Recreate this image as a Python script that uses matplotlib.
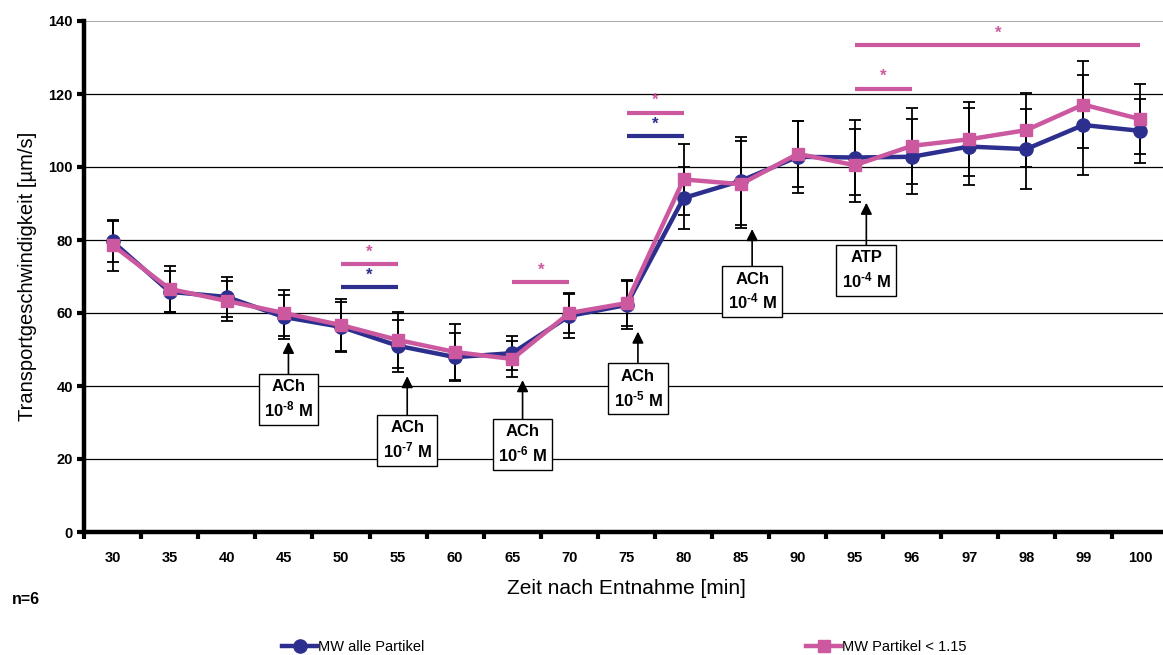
import numpy as np
import matplotlib
matplotlib.use('Agg')
from matplotlib import pyplot as plt

plt.rcParams['font.family'] = ['Liberation Sans', 'DejaVu Sans']
plt.rcParams['mathtext.fontset'] = 'custom'
plt.rcParams['mathtext.rm'] = 'Liberation Sans:bold'
plt.rcParams['mathtext.default'] = 'rm'

# ---------------------------------------------------------------------------
# Daten: Transportgeschwindigkeit (Mittelwert +/- SD), n=6
# ---------------------------------------------------------------------------
zeit = ['30', '35', '40', '45', '50', '55', '60', '65', '70', '75',
        '80', '85', '90', '95', '96', '97', '98', '99', '100']

mw_alle = [79.6, 65.8, 64.4, 58.9, 56.2, 51.0, 47.9, 49.0, 59.2, 62.2,
           91.5, 96.2, 102.8, 102.6, 102.8, 105.6, 104.9, 111.5, 109.9]
sd_alle = [5.7, 5.6, 5.4, 6.0, 6.9, 7.2, 6.5, 4.6, 6.0, 6.5,
           8.6, 12.0, 9.9, 10.3, 10.3, 10.6, 11.0, 13.6, 8.7]

mw_klein = [78.6, 66.6, 63.3, 60.0, 56.7, 52.6, 49.3, 47.4, 60.0, 62.7,
            96.6, 95.3, 103.6, 100.5, 105.8, 107.6, 110.1, 117.1, 113.1]
sd_klein = [7.0, 6.4, 5.5, 6.3, 7.0, 7.8, 7.7, 5.0, 5.6, 6.3,
            9.7, 11.9, 9.0, 10.0, 10.5, 10.2, 10.2, 12.0, 9.6]

# Signifikanzbalken: (von, bis, Hoehe, Serie)
sig_von = ['50', '50', '65', '75', '75', '95', '95']
sig_bis = ['55', '55', '70', '80', '80', '96', '100']
sig_hoehe = [73.4, 67.1, 68.4, 114.9, 108.5, 121.5, 133.5]
sig_serie = ['klein', 'alle', 'klein', 'klein', 'alle', 'klein', 'klein']

# Substanzgaben: Beschriftung, Position, Pfeilspitze, Kastenmitte
gabe_text = ['ACh\n10$^{\\text{-}8}$ M', 'ACh\n10$^{\\text{-}7}$ M',
             'ACh\n10$^{\\text{-}6}$ M', 'ACh\n10$^{\\text{-}5}$ M',
             'ACh\n10$^{\\text{-}4}$ M', 'ATP\n10$^{\\text{-}4}$ M']
gabe_x = [3.08, 5.16, 7.18, 9.2, 11.2, 13.2]
gabe_spitze = [52.1, 42.7, 41.6, 54.9, 83.0, 90.2]
gabe_kasten = [36.4, 25.2, 24.0, 39.2, 65.8, 71.7]

BLAU = '#2c2f8e'
ROSA = '#cc599f'
farbe = {'alle': BLAU, 'klein': ROSA}

x = np.arange(len(zeit))

fig = plt.figure(figsize=(11.63, 6.55), dpi=100)
ax = fig.add_axes([84 / 1163, 1 - 532 / 655, 1085 / 1163, 511 / 655])

# Gitterlinien
for g in [20, 40, 60, 80, 100, 120]:
    ax.axhline(g, color='black', lw=0.9, zorder=0)
ax.axhline(140, color='#9a9a9a', lw=1.2, zorder=0)

# Fehlerbalken
ax.errorbar(x, mw_alle, yerr=sd_alle, fmt='none', ecolor='black',
            elinewidth=1.3, capsize=4, capthick=1.3, zorder=2)
ax.errorbar(x, mw_klein, yerr=sd_klein, fmt='none', ecolor='black',
            elinewidth=1.3, capsize=4, capthick=1.3, zorder=2)

# Kurven
l1, = ax.plot(x, mw_alle, color=BLAU, lw=3.2, marker='o', ms=9.5,
              zorder=3, label='MW alle Partikel')
l2, = ax.plot(x, mw_klein, color=ROSA, lw=3.2, marker='s', ms=8.5,
              zorder=4, label='MW Partikel < 1.15')

# Signifikanzbalken mit Sternchen
for a, b, h, s in zip(sig_von, sig_bis, sig_hoehe, sig_serie):
    i0, i1 = zeit.index(a), zeit.index(b)
    ax.hlines(h, i0, i1, color=farbe[s], lw=3, zorder=3)
    ax.text((i0 + i1) / 2, h + 1.2, '*', color=farbe[s], ha='center',
            va='bottom', fontsize=12, fontweight='bold')

# Pfeile und Kaesten fuer die Substanzgaben
for txt, gx, sp, kb in zip(gabe_text, gabe_x, gabe_spitze, gabe_kasten):
    ax.annotate('', xy=(gx, sp), xytext=(gx, kb + 6.4),
                arrowprops=dict(arrowstyle='-|>', color='black', lw=1.2,
                                mutation_scale=17, shrinkA=0, shrinkB=0),
                zorder=5)
    ax.text(gx, kb, txt, ha='center', va='center', fontsize=12,
            fontweight='bold', linespacing=1.3, zorder=6,
            bbox=dict(boxstyle='square,pad=0.33', fc='white', ec='black', lw=1))

ax.set_xlim(-0.5, len(zeit) - 0.5)
ax.set_ylim(0, 140)

# Achsen
for sp in ['top', 'right']:
    ax.spines[sp].set_visible(False)
ax.spines['left'].set_linewidth(3.2)
ax.spines['bottom'].set_linewidth(3.2)

ax.set_yticks(np.arange(0, 141, 20))
ax.set_yticklabels([str(v) for v in range(0, 141, 20)], fontweight='bold',
                   fontsize=10.5)
ax.tick_params(axis='y', length=5, width=3, pad=3)

ax.set_xticks(np.arange(-0.5, len(zeit), 1))
ax.set_xticklabels([])
ax.tick_params(axis='x', which='major', length=5, width=3)
ax.set_xticks(x, minor=True)
ax.set_xticklabels(zeit, minor=True, fontweight='bold', fontsize=10.5)
ax.tick_params(axis='x', which='minor', length=0, pad=14)

ax.set_ylabel('Transportgeschwindigkeit [µm/s]', fontsize=14.5, labelpad=8)
ax.set_xlabel('Zeit nach Entnahme [min]', fontsize=15, labelpad=10)

fig.text(12 / 1163, 1 - 600 / 655, 'n=6', fontsize=11.5, fontweight='bold',
         va='center')

fig.legend(handles=[l1], loc='center left', bbox_to_anchor=(282 / 1163, 1 - 647 / 655),
           frameon=False, fontsize=10.5, handlelength=2.4, handletextpad=0.1,
           borderpad=0, borderaxespad=0)
fig.legend(handles=[l2], loc='center left', bbox_to_anchor=(806 / 1163, 1 - 647 / 655),
           frameon=False, fontsize=10.5, handlelength=2.4, handletextpad=0.1,
           borderpad=0, borderaxespad=0)

fig.savefig('out.png', dpi=100)
